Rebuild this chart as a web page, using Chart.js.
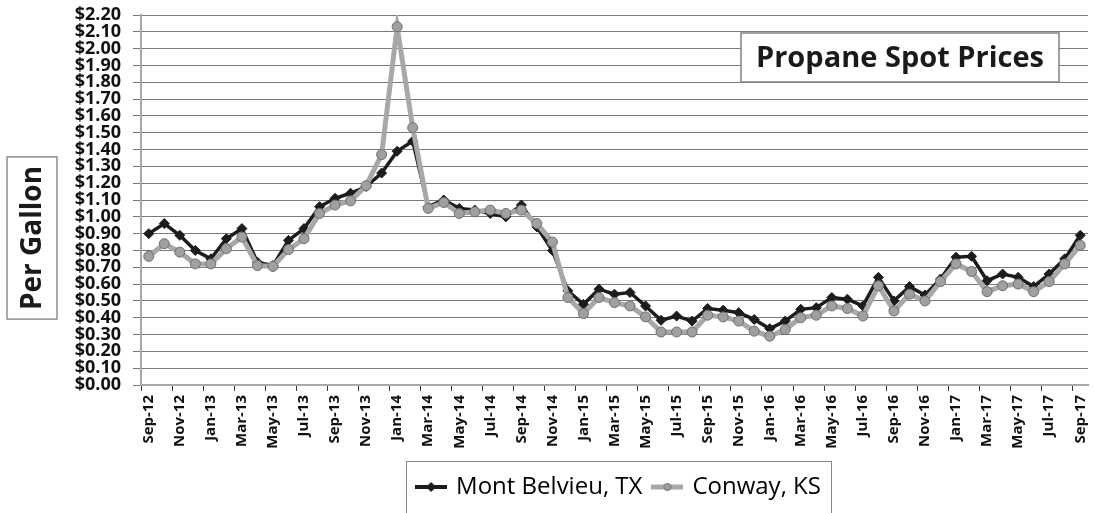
<!DOCTYPE html>
<html lang="en">
<head>
    <meta charset="UTF-8">
    <title>Propane Spot Prices</title>
    <script src="https://cdn.jsdelivr.net/npm/chart.js"></script>
    <style>
        * { margin: 0; padding: 0; box-sizing: border-box; }
        body { background: #fff; }
        .chart-wrap { width: 1094px; height: 513px; position: relative; }
    </style>
</head>
<body>
    <div class="chart-wrap">
        <canvas id="propaneChart"></canvas>
    </div>

    <script>
        // Monthly categories, Sep-12 .. Sep-17
        const months = [
            'Sep-12', 'Oct-12', 'Nov-12', 'Dec-12',
            'Jan-13', 'Feb-13', 'Mar-13', 'Apr-13', 'May-13', 'Jun-13', 'Jul-13', 'Aug-13', 'Sep-13', 'Oct-13', 'Nov-13', 'Dec-13',
            'Jan-14', 'Feb-14', 'Mar-14', 'Apr-14', 'May-14', 'Jun-14', 'Jul-14', 'Aug-14', 'Sep-14', 'Oct-14', 'Nov-14', 'Dec-14',
            'Jan-15', 'Feb-15', 'Mar-15', 'Apr-15', 'May-15', 'Jun-15', 'Jul-15', 'Aug-15', 'Sep-15', 'Oct-15', 'Nov-15', 'Dec-15',
            'Jan-16', 'Feb-16', 'Mar-16', 'Apr-16', 'May-16', 'Jun-16', 'Jul-16', 'Aug-16', 'Sep-16', 'Oct-16', 'Nov-16', 'Dec-16',
            'Jan-17', 'Feb-17', 'Mar-17', 'Apr-17', 'May-17', 'Jun-17', 'Jul-17', 'Aug-17', 'Sep-17'
        ];

        // $ per gallon
        const montBelvieu = [
            0.90, 0.96, 0.89, 0.80,
            0.75, 0.87, 0.93, 0.73, 0.71, 0.86, 0.93, 1.06, 1.11, 1.14, 1.18, 1.26,
            1.39, 1.45, 1.06, 1.10, 1.05, 1.04, 1.02, 1.00, 1.07, 0.94, 0.80, 0.56,
            0.48, 0.57, 0.54, 0.55, 0.47, 0.385, 0.41, 0.38, 0.455, 0.445, 0.43, 0.39,
            0.335, 0.38, 0.45, 0.46, 0.52, 0.51, 0.47, 0.64, 0.50, 0.585, 0.535, 0.63,
            0.76, 0.765, 0.62, 0.66, 0.64, 0.585, 0.66, 0.75, 0.89
        ];

        const conway = [
            0.765, 0.84, 0.79, 0.72,
            0.72, 0.81, 0.88, 0.71, 0.705, 0.805, 0.87, 1.02, 1.07, 1.095, 1.185, 1.37,
            2.13, 1.53, 1.05, 1.085, 1.02, 1.03, 1.04, 1.02, 1.04, 0.96, 0.85, 0.52,
            0.425, 0.52, 0.49, 0.47, 0.405, 0.315, 0.315, 0.315, 0.415, 0.405, 0.38, 0.32,
            0.29, 0.33, 0.40, 0.415, 0.47, 0.455, 0.41, 0.59, 0.44, 0.54, 0.50, 0.615,
            0.72, 0.675, 0.555, 0.59, 0.60, 0.555, 0.615, 0.72, 0.83
        ];

        const yMin = 0;
        const yMax = 2.2;
        const yStep = 0.1;

        const chartTitle = 'Propane Spot Prices';
        const yTitle = 'Per Gallon';

        // small legend icons: line segment with the series marker
        function legendIcon(lineColor, lineWidth, marker) {
            const c = document.createElement('canvas');
            c.width = 32;
            c.height = 14;
            const g = c.getContext('2d');
            g.strokeStyle = lineColor;
            g.lineWidth = lineWidth;
            g.beginPath();
            g.moveTo(0, 7);
            g.lineTo(32, 7);
            g.stroke();
            if (marker === 'diamond') {
                g.fillStyle = lineColor;
                g.beginPath();
                g.moveTo(16, 2); g.lineTo(21, 7); g.lineTo(16, 12); g.lineTo(11, 7);
                g.closePath();
                g.fill();
            } else {
                g.fillStyle = '#a0a0a0';
                g.strokeStyle = '#6e6e6e';
                g.lineWidth = 1;
                g.beginPath();
                g.arc(16, 7, 3.5, 0, Math.PI * 2);
                g.fill();
                g.stroke();
            }
            return c;
        }
        const legendIcons = [
            legendIcon('#1c1c1c', 4, 'diamond'),
            legendIcon('#a8a8a8', 5, 'circle')
        ];

        // boxed title, rotated axis title and the legend frame
        const decorations = {
            id: 'decorations',
            afterLayout(chart) {
                // centre the legend under the plot area, like the original
                const lg = chart.legend;
                const shift = (chart.chartArea.left + chart.chartArea.right) / 2 - (lg.left + lg.right) / 2 + 5;
                lg.left += shift;
                lg.right += shift;
            },
            beforeDatasetsDraw(chart) {
                const { ctx, chartArea } = chart;
                ctx.save();
                ctx.font = 'bold 29px "Open Sans"';
                const tw = ctx.measureText(chartTitle).width;
                const right = chartArea.right - 29;
                const top = chartArea.top + 18;
                const w = tw + 30, h = 49;
                ctx.fillStyle = '#fff';
                ctx.fillRect(right - w, top, w, h);
                ctx.strokeStyle = '#808080';
                ctx.lineWidth = 1.5;
                ctx.strokeRect(right - w, top, w, h);
                ctx.fillStyle = '#1a1a1a';
                ctx.textAlign = 'center';
                ctx.textBaseline = 'middle';
                ctx.fillText(chartTitle, right - w / 2, top + h / 2 + 1);
                ctx.restore();
            },
            afterDraw(chart) {
                const { ctx, chartArea } = chart;
                ctx.save();
                // y axis title
                ctx.font = 'bold 28px "Open Sans"';
                const tw = ctx.measureText(yTitle).width;
                const cx = 32;
                const cy = (chartArea.top + chartArea.bottom) / 2 + 38;
                ctx.strokeStyle = '#555';
                ctx.lineWidth = 1;
                ctx.strokeRect(cx - 25, cy - tw / 2 - 9, 50, tw + 18);
                ctx.translate(cx, cy);
                ctx.rotate(-Math.PI / 2);
                ctx.fillStyle = '#1a1a1a';
                ctx.textAlign = 'center';
                ctx.textBaseline = 'middle';
                ctx.fillText(yTitle, 0, 1);
                ctx.restore();

                // legend frame
                const boxes = chart.legend.legendHitBoxes;
                if (boxes && boxes.length) {
                    const first = boxes[0];
                    const last = boxes[boxes.length - 1];
                    const l = first.left - 12;
                    const r = last.left + last.width + 10;
                    const t = first.top - 14;
                    ctx.save();
                    ctx.strokeStyle = '#888';
                    ctx.lineWidth = 1;
                    ctx.strokeRect(Math.round(l) + 0.5, Math.round(t) + 0.5, Math.round(r - l), chart.height - t + 20);
                    ctx.restore();
                }
            }
        };

        const ctx = document.getElementById('propaneChart').getContext('2d');
        const propaneChart = new Chart(ctx, {
            type: 'line',
            data: {
                labels: months,
                datasets: [{
                    label: 'Mont Belvieu, TX',
                    data: montBelvieu,
                    borderColor: '#1c1c1c',
                    backgroundColor: '#1c1c1c',
                    borderWidth: 3.5,
                    pointStyle: 'rectRot',
                    pointRadius: 5,
                    pointBackgroundColor: '#1c1c1c',
                    pointBorderColor: '#1c1c1c',
                    pointBorderWidth: 1,
                    tension: 0,
                    order: 1
                }, {
                    label: 'Conway, KS',
                    data: conway,
                    borderColor: '#a8a8a8',
                    backgroundColor: '#a0a0a0',
                    borderWidth: 5,
                    pointStyle: 'circle',
                    pointRadius: 5,
                    pointBackgroundColor: '#a0a0a0',
                    pointBorderColor: '#6e6e6e',
                    pointBorderWidth: 1,
                    tension: 0,
                    order: 0
                }]
            },
            options: {
                responsive: true,
                maintainAspectRatio: false,
                animation: false,
                devicePixelRatio: 1,
                layout: { padding: { top: 15, right: 1, bottom: 4, left: 0 } },
                plugins: {
                    title: { display: false },
                    tooltip: { enabled: false },
                    legend: {
                        position: 'bottom',
                        labels: {
                            usePointStyle: true,
                            pointStyleWidth: 26,
                            padding: 12,
                            color: '#222',
                            font: { family: '"Open Sans"', size: 24 },
                            sort: (a, b) => a.datasetIndex - b.datasetIndex,
                            generateLabels: chart => chart.data.datasets.map((ds, i) => ({
                                text: ds.label,
                                pointStyle: legendIcons[i],
                                fillStyle: ds.borderColor,
                                strokeStyle: ds.borderColor,
                                lineWidth: 0,
                                hidden: false,
                                datasetIndex: i
                            }))
                        }
                    }
                },
                scales: {
                    x: {
                        type: 'category',
                        offset: true,
                        afterFit: s => { s.height = 78; s.paddingRight = 0; s.paddingLeft = 0; },
                        border: { color: '#a8a8a8', width: 2 },
                        grid: {
                            offset: true,
                            drawOnChartArea: false,
                            drawTicks: true,
                            tickLength: 6,
                            color: c => (c.index % 2 === 0 ? '#333' : 'rgba(0,0,0,0)')
                        },
                        ticks: {
                            autoSkip: false,
                            maxRotation: 90,
                            minRotation: 90,
                            padding: 4,
                            color: '#111',
                            font: { family: '"Open Sans"', size: 15, weight: 'bold' },
                            callback: function (val, i) {
                                return i % 2 === 0 ? this.getLabelForValue(val) : '';
                            }
                        }
                    },
                    y: {
                        min: yMin,
                        max: yMax,
                        afterFit: s => { s.width = 141; s.paddingTop = 0; s.paddingBottom = 0; },
                        border: { color: '#a8a8a8', width: 2 },
                        grid: {
                            color: '#7a7a7a',
                            lineWidth: 1,
                            drawTicks: true,
                            tickLength: 8
                        },
                        ticks: {
                            stepSize: yStep,
                            autoSkip: false,
                            padding: 12,
                            color: '#111',
                            font: { family: '"Open Sans"', size: 18, weight: 'bold' },
                            callback: v => '$' + v.toFixed(2)
                        }
                    }
                }
            },
            plugins: [decorations]
        });
    </script>
</body>
</html>
